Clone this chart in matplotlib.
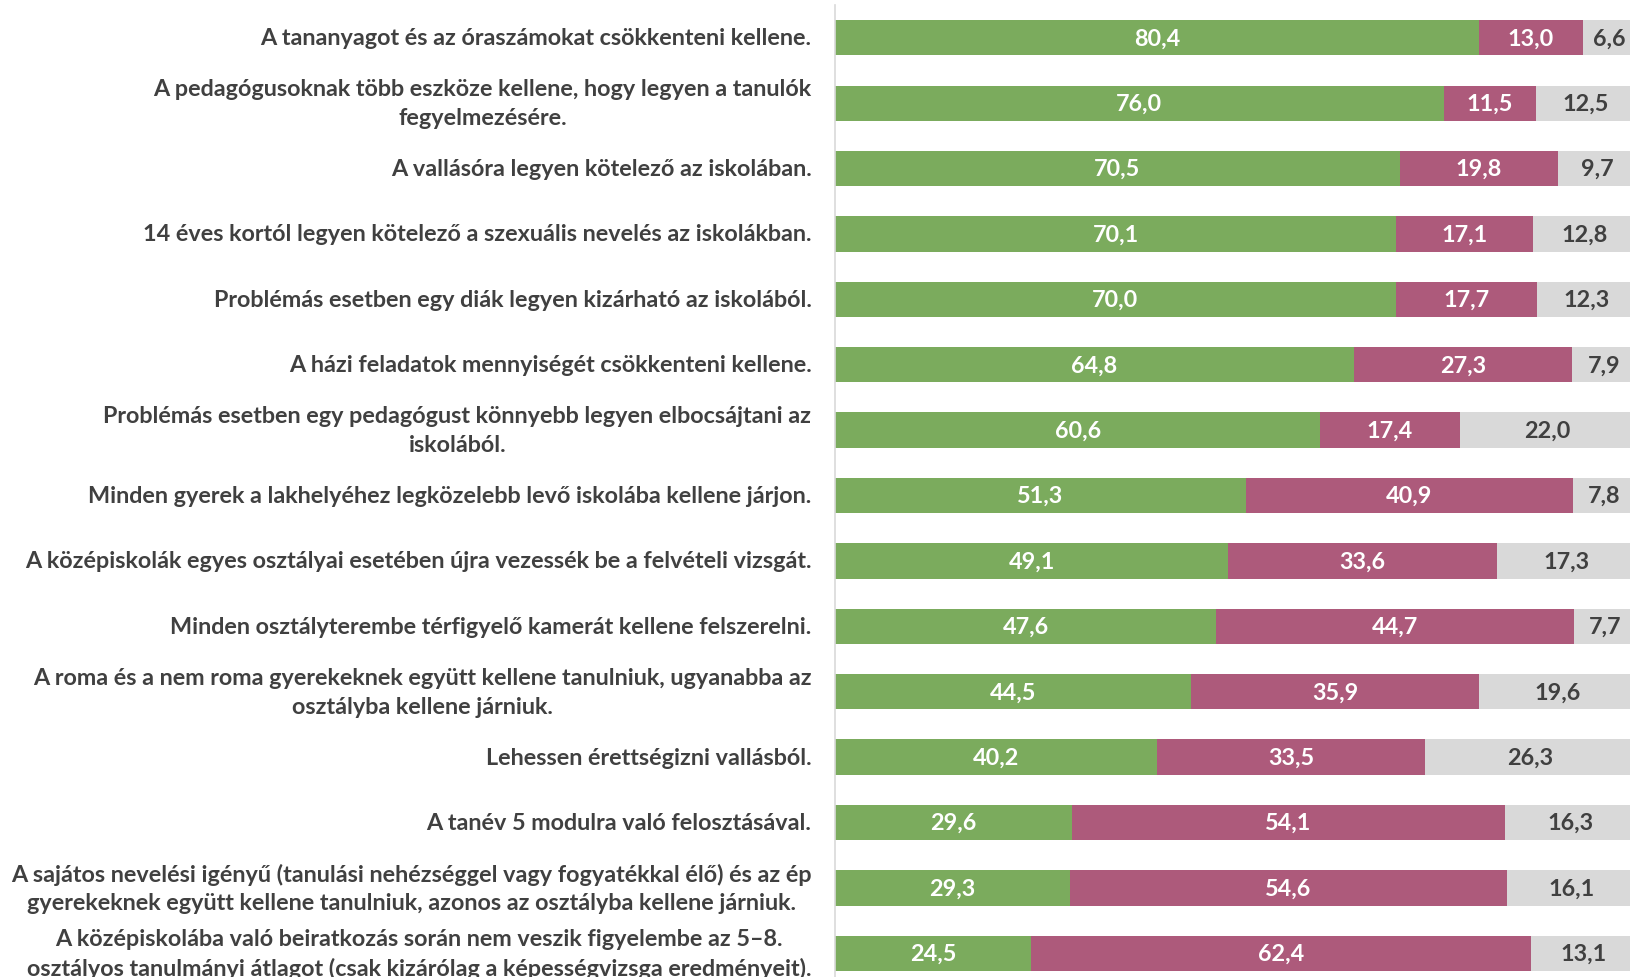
import matplotlib
matplotlib.use("Agg")
import matplotlib.pyplot as plt
import numpy as np

categories = [
    "A tananyagot és az óraszámokat csökkenteni kellene.",
    "A pedagógusoknak több eszköze kellene, hogy legyen a tanulók\nfegyelmezésére.",
    "A vallásóra legyen kötelező az iskolában.",
    "14 éves kortól legyen kötelező a szexuális nevelés az iskolákban.",
    "Problémás esetben egy diák legyen kizárható az iskolából.",
    "A házi feladatok mennyiségét csökkenteni kellene.",
    "Problémás esetben egy pedagógust könnyebb legyen elbocsájtani az\niskolából.",
    "Minden gyerek a lakhelyéhez legközelebb levő iskolába kellene járjon.",
    "A középiskolák egyes osztályai esetében újra vezessék be a felvételi vizsgát.",
    "Minden osztályterembe térfigyelő kamerát kellene felszerelni.",
    "A roma és a nem roma gyerekeknek együtt kellene tanulniuk, ugyanabba az\nosztályba kellene járniuk.",
    "Lehessen érettségizni vallásból.",
    "A tanév 5 modulra való felosztásával.",
    "A sajátos nevelési igényű (tanulási nehézséggel vagy fogyatékkal élő) és az ép\ngyerekeknek együtt kellene tanulniuk, azonos az osztályba kellene járniuk.",
    "A középiskolába való beiratkozás során nem veszik figyelembe az 5–8.\nosztályos tanulmányi átlagot (csak kizárólag a képességvizsga eredményeit).",
]
agree = [80.4, 76.0, 70.5, 70.1, 70.0, 64.8, 60.6, 51.3, 49.1, 47.6, 44.5, 40.2, 29.6, 29.3, 24.5]
disagree = [13.0, 11.5, 19.8, 17.1, 17.7, 27.3, 17.4, 40.9, 33.6, 44.7, 35.9, 33.5, 54.1, 54.6, 62.4]
unknown = [6.6, 12.5, 9.7, 12.8, 12.3, 7.9, 22.0, 7.8, 17.3, 7.7, 19.6, 26.3, 16.3, 16.1, 13.1]

GREEN = "#7BAB5D"
MAGENTA = "#AD5A7B"
GRAY = "#D9D9D9"
TEXT = "#404040"
FONT = "Lato"

fig = plt.figure(figsize=(16.3, 9.78), dpi=100)
ax = fig.add_axes([0.5123, -0.0092, 0.4912, 1.003])

y = np.arange(len(categories))
h = 0.54
a = np.array(agree); d = np.array(disagree); u = np.array(unknown)
b1 = ax.barh(y, a, height=h, color=GREEN)
b2 = ax.barh(y, d, left=a, height=h, color=MAGENTA)
b3 = ax.barh(y, u, left=a + d, height=h, color=GRAY)

fs = 16.8
def fmt(v):
    return f"{v:.1f}".replace(".", ",")
for bars, vals, col in [(b1, a, "white"), (b2, d, "white"), (b3, u, TEXT)]:
    ax.bar_label(bars, labels=[fmt(v) for v in vals], label_type="center",
                 color=col, fontsize=fs, fontweight="bold", family=FONT)

ax.set_ylim(len(categories) - 0.5, -0.5)
ax.set_xlim(0, 100)
ax.set_yticks(y)
ax.set_yticklabels(categories, fontsize=fs, fontweight="bold", family=FONT, color=TEXT)
for lab in ax.get_yticklabels():
    lab.set_multialignment("center")
    lab.set_linespacing(1.45)
    lab.set_verticalalignment("center")
ax.tick_params(axis="y", length=0, pad=17)
ax.tick_params(axis="x", length=0, labelbottom=False)
for s in ["top", "right", "bottom"]:
    ax.spines[s].set_visible(False)
ax.spines["left"].set_color("#D9D9D9")
ax.spines["left"].set_linewidth(1.2)

fig.savefig("out.png", dpi=100)
